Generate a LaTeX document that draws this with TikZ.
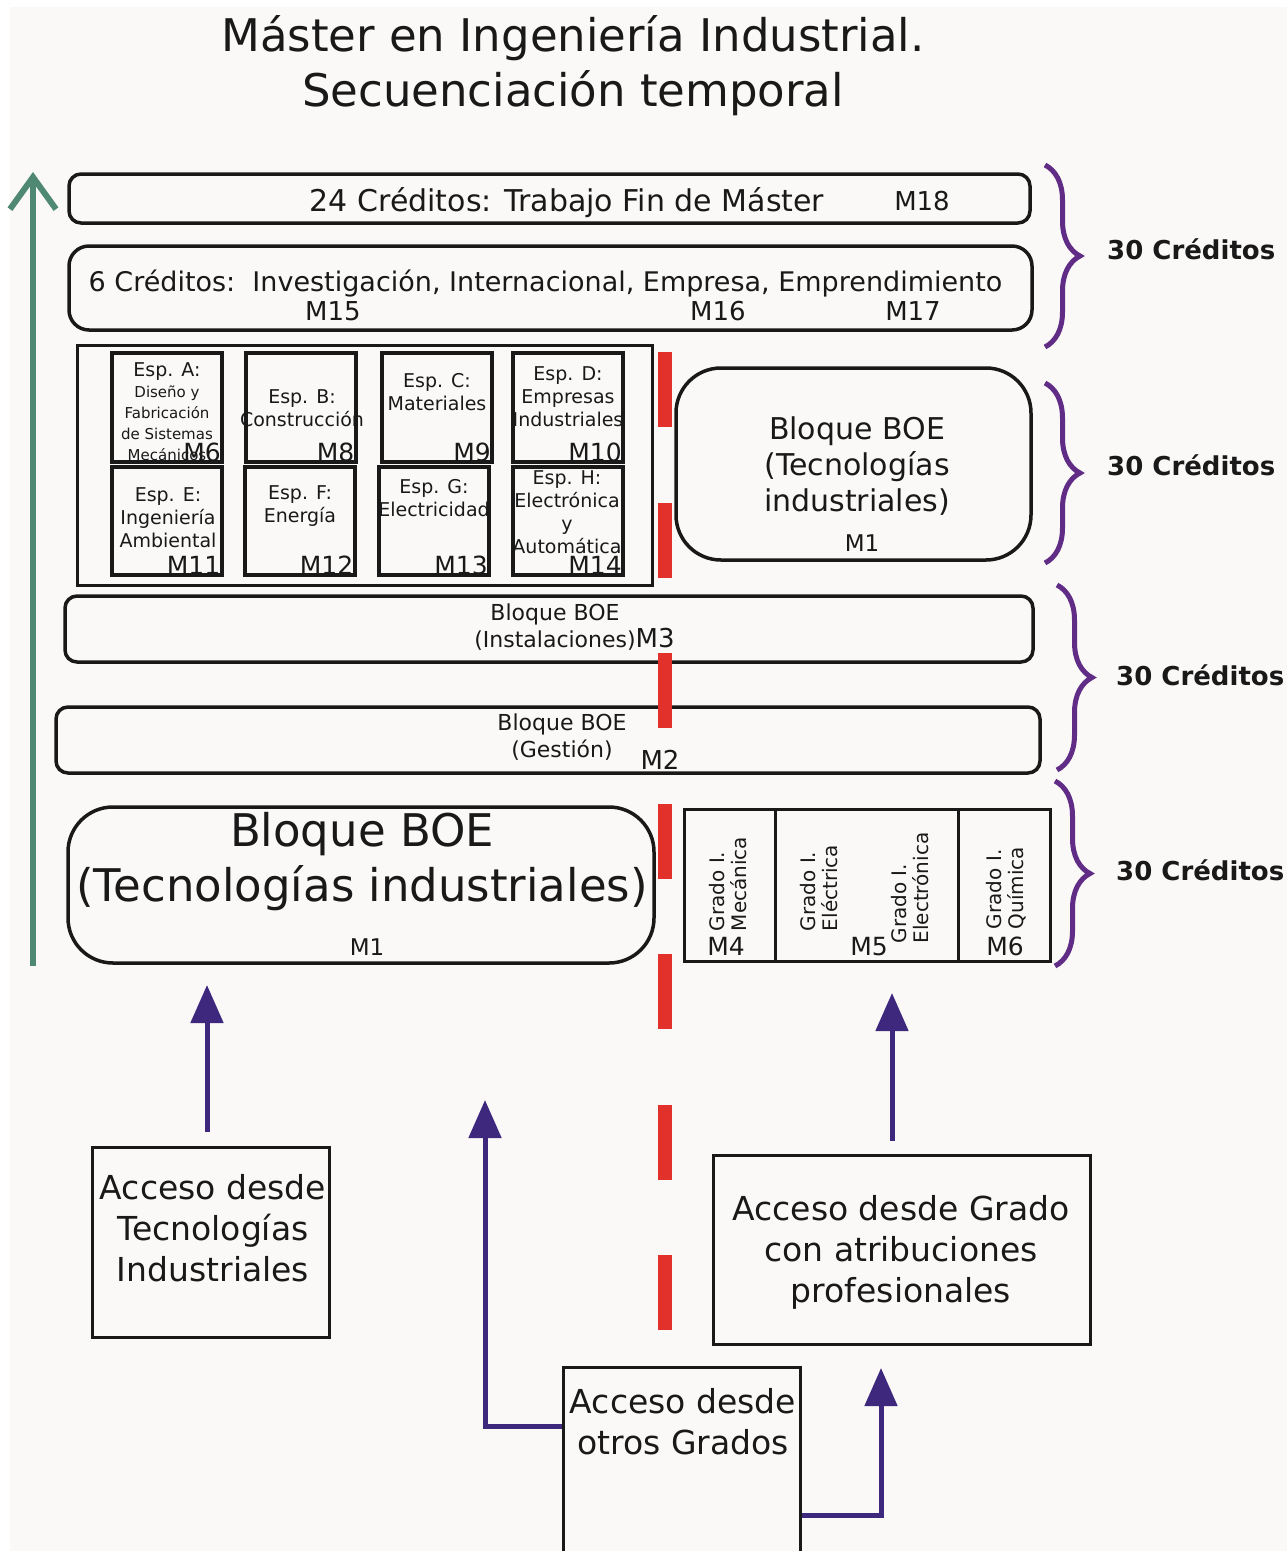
\documentclass[tikz,border=0pt]{standalone}
\usepackage{fontspec}
\setmainfont{DejaVu Sans}
\usetikzlibrary{arrows.meta,decorations.pathreplacing,positioning}
\definecolor{fondo}{RGB}{250,249,247}
\definecolor{verde}{RGB}{80,137,115}
\definecolor{morado}{RGB}{96,44,134}
\definecolor{azul}{RGB}{62,40,126}
\definecolor{rojo}{RGB}{226,49,42}
\newcommand{\tam}[2]{\fontsize{#1}{#2}\selectfont}

\begin{document}
\begin{tikzpicture}
    [x=1pt, y=-1pt,
     bloque/.style={rectangle, rounded corners=#1, draw=black!90, line width=3.5pt, inner sep=0pt},
     caja/.style={rectangle, draw=black!90, line width=3pt, inner sep=0pt},
     esp/.style={rectangle, draw=black!90, line width=4pt, minimum width=110pt, inner sep=0pt},
     texto/.style={inner sep=0pt, align=center, text=black!90},
     marca/.style={inner sep=0pt, text=black!90, font=\tam{25}{25}, anchor=base east},
     llave/.style={draw=morado, line width=5pt, decorate, decoration={brace, amplitude=#1}},
     acceso/.style={draw=azul, line width=5pt, -{Triangle[length=38pt,width=32pt]}},
     creditos/.style={inner sep=0pt, font=\tam{26}{30}\bfseries, anchor=west, text=black!90}]
    \path[use as bounding box] (0,0) rectangle (1287,1551);
    \clip (0,0) rectangle (1287,1551);
    \fill[white] (0,0) rectangle (1287,1551);
    \fill[fondo] (10,7) rectangle (1287,1551);

    % titulo
    \node[texto, font=\tam{45}{55}] (titulo) at (573,66) {Máster en Ingeniería Industrial.\\Secuenciación temporal};

    % TFM y optativas
    \node[bloque=12pt, minimum width=961pt, minimum height=49pt] (tfm) at (549.5,198.5) {};
    \node[texto, font=\tam{30}{36}, anchor=base] (tfmt) at (567,211) {24 Créditos: Trabajo Fin de Máster};
    \node[texto, font=\tam{26}{30}, anchor=base] (m18) at (922,210) {M18};

    \node[bloque=20pt, minimum width=963pt, minimum height=84pt] (optativas) at (550.5,288) {};
    \node[texto, font=\tam{27}{32}, anchor=base] (optt) at (545.5,291) {6 Créditos:\ \ Investigación, Internacional, Empresa, Emprendimiento};
    \node[texto, font=\tam{26}{30}, anchor=base] (m15) at (333,320) {M15};
    \node[texto, font=\tam{26}{30}, anchor=base] (m16) at (718,320) {M16};
    \node[texto, font=\tam{26}{30}, anchor=base] (m17) at (913,320) {M17};

    % especialidades
    \node[caja, minimum width=575pt, minimum height=240pt] (especialidades) at (364.5,465) {};
    \node[esp, minimum height=109pt] (espA) at (167,407.5) {};
    \node[esp, minimum height=109pt] (espB) at (300.5,407.5) {};
    \node[esp, minimum height=109pt] (espC) at (437,407.5) {};
    \node[esp, minimum height=109pt] (espD) at (568,407.5) {};
    \node[esp, minimum height=108pt] (espE) at (166.5,521) {};
    \node[esp, minimum height=108pt] (espF) at (299.5,521) {};
    \node[esp, minimum height=108pt] (espG) at (434,521) {};
    \node[esp, minimum height=108pt] (espH) at (568,521) {};

    \node[texto, font=\tam{19}{21}] (espAt) at (167,412) {Esp. A:\\\tam{15}{18}Diseño y\\\tam{15}{18}Fabricación\\\tam{15}{18}de Sistemas\\\tam{15}{18}Mecánicos};
    \node[texto, font=\tam{19}{23}] (espBt) at (302,408) {Esp. B:\\Construcción};
    \node[texto, font=\tam{19}{23}] (espCt) at (437,392) {Esp. C:\\Materiales};
    \node[texto, font=\tam{19}{23}] (espDt) at (568,397) {Esp. D:\\Empresas\\Industriales};
    \node[texto, font=\tam{19}{23}] (espEt) at (168,518) {Esp. E:\\Ingeniería\\Ambiental};
    \node[texto, font=\tam{19}{23}] (espFt) at (300,506) {Esp. F:\\Energía};
    \node[texto, font=\tam{19}{23}] (espGt) at (434,498) {Esp. G:\\Electricidad};
    \node[texto, font=\tam{19}{23}] (espHt) at (567,512) {Esp. H:\\Electrónica\\y\\Automática};

    \node[marca] (espAm) at ([xshift=-3pt,yshift=3pt]espA.south east) {M6};
    \node[marca] (espBm) at ([xshift=-3pt,yshift=3pt]espB.south east) {M8};
    \node[marca] (espCm) at ([xshift=-3pt,yshift=3pt]espC.south east) {M9};
    \node[marca] (espDm) at ([xshift=-3pt,yshift=3pt]espD.south east) {M10};
    \node[marca] (espEm) at ([xshift=-3pt,yshift=3pt]espE.south east) {M11};
    \node[marca] (espFm) at ([xshift=-3pt,yshift=3pt]espF.south east) {M12};
    \node[marca] (espGm) at ([xshift=-3pt,yshift=3pt]espG.south east) {M13};
    \node[marca] (espHm) at ([xshift=-3pt,yshift=3pt]espH.south east) {M14};

    % bloque BOE derecho
    \node[bloque=45pt, minimum width=355pt, minimum height=192pt] (boeDer) at (853.5,464) {};
    \node[texto, font=\tam{30}{36}] (boeDert) at (857,466) {Bloque BOE\\(Tecnologías\\industriales)};
    \node[texto, font=\tam{23}{23}, anchor=base] (boeDerm) at (862,551) {M1};

    % instalaciones y gestion
    \node[bloque=12pt, minimum width=968pt, minimum height=66pt] (instal) at (549,629) {};
    \node[texto, font=\tam{22}{27}] (instalt) at (555,627) {Bloque BOE\\(Instalaciones)\rlap{\tam{26}{27}M3}};
    \node[bloque=12pt, minimum width=984pt, minimum height=66pt] (gestion) at (548,740) {};
    \node[texto, font=\tam{22}{27}] (gestiont) at (562,737) {Bloque BOE\\(Gestión)};
    \node[texto, font=\tam{26}{26}, anchor=base] (gestionm) at (660,769) {M2};

    % bloque BOE inferior
    \node[bloque=45pt, minimum width=586pt, minimum height=156pt] (boeIzq) at (361,885) {};
    \node[texto, font=\tam{45}{55}] (boeIzqt) at (362,862) {Bloque BOE\\(Tecnologías industriales)};
    \node[texto, font=\tam{23}{23}, anchor=base] (boeIzqm) at (367,955) {M1};

    % grados
    \node[caja, minimum width=91pt, minimum height=152pt] (gMec) at (729.5,885) {};
    \node[caja, minimum width=183pt, minimum height=152pt] (gEle) at (866.5,885) {};
    \node[caja, minimum width=92pt, minimum height=152pt] (gQui) at (1004,885) {};
    \node[texto, align=left, font=\tam{20}{22}, rotate=90] (gMect) at (728,884) {Grado I.\\Mecánica};
    \node[texto, align=left, font=\tam{20}{22}, rotate=90] (gElet) at (819,888) {Grado I.\\Eléctrica};
    \node[texto, align=left, font=\tam{20}{22}, rotate=90] (gElnt) at (910.5,888) {Grado I.\\Electrónica};
    \node[texto, align=left, font=\tam{20}{22}, rotate=90] (gQuit) at (1006.5,888) {Grado I.\\Química};
    \node[texto, font=\tam{25}{25}, anchor=base] (gMecm) at (726,955) {M4};
    \node[texto, font=\tam{25}{25}, anchor=base] (gElem) at (869,955) {M5};
    \node[texto, font=\tam{25}{25}, anchor=base] (gQuim) at (1005,955) {M6};

    % accesos
    \node[caja, minimum width=237pt, minimum height=190pt] (tec) at (210.5,1242) {};
    \node[texto, font=\tam{33}{41}, anchor=north] (tect) at (213,1174) {Acceso desde\\Tecnologías\\Industriales};
    \node[caja, minimum width=377pt, minimum height=189pt] (grad) at (901.5,1249.5) {};
    \node[texto, font=\tam{33}{41}, anchor=north] (gradt) at (901,1195) {Acceso desde Grado\\con atribuciones\\profesionales};
    \node[caja, minimum width=237pt, minimum height=213pt] (otros) at (681.5,1473.5) {};
    \node[texto, font=\tam{33}{41}, anchor=north] (otrost) at (683,1388) {Acceso desde\\otros Grados};

    \coordinate (llegadaTec) at (207,985);
    \coordinate (llegadaGrado) at (892,993);
    \coordinate (llegadaOtros1) at (485,1100);
    \coordinate (llegadaOtros2) at (881,1368);
    \draw[acceso] ([xshift=-3.5pt,yshift=14pt]tec.north) -- (llegadaTec);
    \draw[acceso] ([xshift=-9.5pt,yshift=13pt]grad.north) -- (llegadaGrado);
    \draw[acceso] ([yshift=-61pt]otros.north west) -| (llegadaOtros1);
    \draw[acceso] ([yshift=-150pt]otros.north east) -| (llegadaOtros2);

    % corte
    \coordinate (corteArriba) at (665,352);
    \coordinate (corteAbajo) at (665,1331);
    \draw[rojo, line width=14pt, dash pattern=on 75pt off 75.5pt] (corteArriba) -- (corteAbajo);

    % tiempo
    \coordinate (tiempoIni) at (33,966);
    \coordinate (tiempoFin) at (33,172);
    \draw[verde, line width=6pt, -{Straight Barb[length=32pt,width=46pt]}] (tiempoIni) -- (tiempoFin);

    % llaves
    \draw[llave=35pt] (1045,165) -- (1045,347);
    \draw[llave=35pt] (1045,383) -- (1045,563);
    \draw[llave=35pt] (1057,585) -- (1057,770);
    \draw[llave=35pt] (1055,781) -- (1055,966);
    \node[creditos] (cred1) at (1107,249) {30 Créditos};
    \node[creditos] (cred2) at (1107,465) {30 Créditos};
    \node[creditos] (cred3) at (1116,675) {30 Créditos};
    \node[creditos] (cred4) at (1116,870) {30 Créditos};

\end{tikzpicture}
\end{document}
